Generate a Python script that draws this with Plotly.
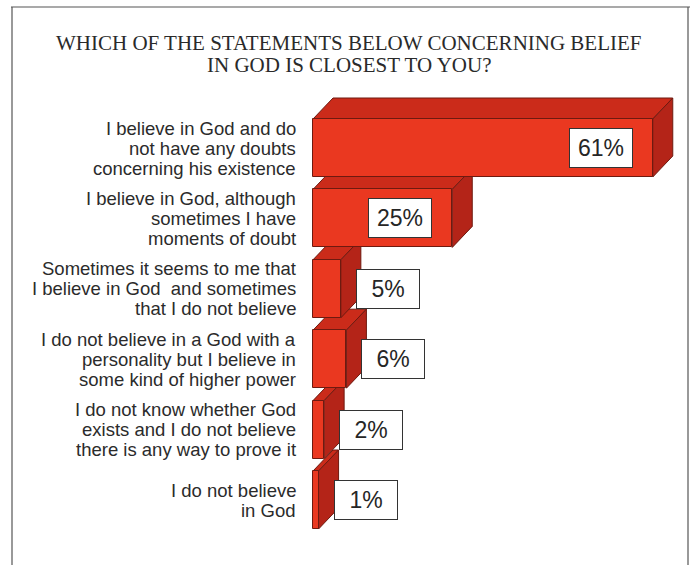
import plotly.graph_objects as go

# Survey answers (top to bottom) and their shares in percent
statements = [
    "I believe in God and do\nnot have any doubts\nconcerning his existence",
    "I believe in God, although\nsometimes I have\nmoments of doubt",
    "Sometimes it seems to me that\nI believe in God  and sometimes\nthat I do not believe",
    "I do not believe in a God with a\npersonality but I believe in\nsome kind of higher power",
    "I do not know whether God\nexists and I do not believe\nthere is any way to prove it",
    "I do not believe\nin God",
]
shares = [61, 25, 5, 6, 2, 1]

title_lines = [
    "WHICH OF THE STATEMENTS BELOW CONCERNING BELIEF",
    "IN GOD IS CLOSEST TO YOU?",
]

# ---- canvas geometry -------------------------------------------------------
W, H = 695, 565
ORIGIN_PX = 313          # pixel column of 0 %
PX_PER_PCT = 5.57        # horizontal scale
FIRST_ROW_PX = 148       # pixel row of the first bar centre
ROW_PX = 70.4            # distance between bar centres

x_range = [-ORIGIN_PX / PX_PER_PCT, (W - ORIGIN_PX) / PX_PER_PCT]
y_range = [(H - FIRST_ROW_PX) / ROW_PX, -FIRST_ROW_PX / ROW_PX]   # reversed

BAR_W = 58 / ROW_PX      # front face thickness (y units)
DX = 20 / PX_PER_PCT     # extrusion depth, horizontal
DY = 21 / ROW_PX         # extrusion depth, vertical (upwards)

FRONT = "#ea3820"
TOP = "#cb2b1a"
SIDE = "#b42418"
EDGE = "#6e1a10"

rows = list(range(len(shares)))

fig = go.Figure()

# front faces of the bars
fig.add_trace(go.Bar(
    x=shares, y=rows, orientation="h", width=BAR_W, base=0,
    marker=dict(color=FRONT, line=dict(color=EDGE, width=1)),
    hoverinfo="skip", showlegend=False,
))

# extruded top and side faces, drawn from the lowest bar upwards so that
# upper bars overlap the ones beneath them
shapes = []
for i in reversed(rows):
    v = shares[i]
    top_y = i - BAR_W / 2
    bot_y = i + BAR_W / 2
    top_face = (f"M 0 {top_y} L {v} {top_y} L {v + DX} {top_y - DY} "
                f"L {DX} {top_y - DY} Z")
    side_face = (f"M {v} {top_y} L {v + DX} {top_y - DY} "
                 f"L {v + DX} {bot_y - DY} L {v} {bot_y} Z")
    shapes.append(dict(type="path", path=top_face, xref="x", yref="y",
                       fillcolor=TOP, line=dict(color=EDGE, width=1),
                       layer="below"))
    shapes.append(dict(type="path", path=side_face, xref="x", yref="y",
                       fillcolor=SIDE, line=dict(color=EDGE, width=1),
                       layer="below"))

# outer frame
frame = dict(color="#555555", width=1.2)
shapes += [
    dict(type="line", xref="paper", yref="paper",
         x0=11 / W, x1=690 / W, y0=1 - 7 / H, y1=1 - 7 / H, line=frame),
    dict(type="line", xref="paper", yref="paper",
         x0=12 / W, x1=12 / W, y0=1 - 7 / H, y1=0, line=frame),
    dict(type="line", xref="paper", yref="paper",
         x0=688 / W, x1=688 / W, y0=1 - 7 / H, y1=0, line=frame),
]

annotations = []

# title, one line per annotation
for j, line in enumerate(title_lines):
    annotations.append(dict(
        text=line, xref="paper", yref="paper",
        x=349 / W, y=1 - (43 + 22 * j) / H,
        xanchor="center", yanchor="middle", showarrow=False,
        font=dict(family="Liberation Serif", size=21, color="#2a2a2a"),
    ))

# category labels, right aligned to the left of the bars
LINE_PX = 20
for i, label in enumerate(statements):
    parts = label.split("\n")
    n = len(parts)
    for j, part in enumerate(parts):
        annotations.append(dict(
            text=part, xref="x", yref="y", x=0, y=i,
            xanchor="right", yanchor="middle", xshift=-15,
            yshift=-(j - (n - 1) / 2) * LINE_PX, showarrow=False,
            font=dict(family="Liberation Sans", size=18.5, color="#2b2b2b"),
        ))

# value boxes: inside long bars, just past the end of short bars
for i, v in enumerate(shares):
    inside = v * PX_PER_PCT > 100
    annotations.append(dict(
        text=f"{v}%", xref="x", yref="y", x=v, y=i,
        xanchor="right" if inside else "left", yanchor="middle",
        xshift=-20 if inside else 15, showarrow=False,
        width=58, height=34, borderpad=2, align="center",
        bgcolor="white", bordercolor="#333333", borderwidth=1,
        font=dict(family="Liberation Sans", size=23, color="#262626"),
    ))

fig.update_layout(
    width=W, height=H, autosize=False,
    margin=dict(l=0, r=0, t=0, b=0),
    paper_bgcolor="white", plot_bgcolor="white",
    xaxis=dict(range=x_range, visible=False, fixedrange=True),
    yaxis=dict(range=y_range, visible=False, fixedrange=True),
    shapes=shapes, annotations=annotations,
    bargap=0, showlegend=False,
)

fig.write_html("out.html")
